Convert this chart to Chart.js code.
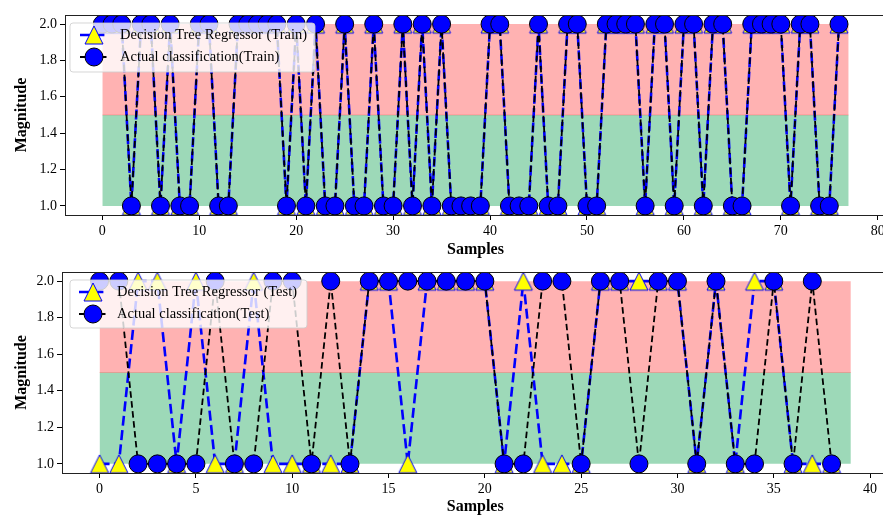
<!DOCTYPE html>
<html>
<head>
<meta charset="utf-8">
<script src="https://cdn.jsdelivr.net/npm/chart.js@4.4.1/dist/chart.umd.min.js"></script>
<style>
  html, body { margin: 0; padding: 0; background: #fff; overflow: hidden; width: 883px; height: 516px; }
  .panel { position: absolute; left: 0; width: 900px; }
</style>
</head>
<body>
<div class="panel" style="top:0;height:262px"><canvas id="trainChart" width="900" height="262"></canvas></div>
<div class="panel" style="top:258px;height:258px"><canvas id="testChart" width="900" height="258"></canvas></div>
<script>
// ---- data ----
const trainActual = [2,2,2,1,2,2,1,2,1,1, 2,2,1,1,2,2,2,2,2,1, 2,1,2,1,1,2,1,1,2,1,
                     1,2,1,2,1,2,1,1,1,1, 2,2,1,1,1,2,1,1,2,2, 1,1,2,2,2,2,1,2,2,1,
                     2,2,1,2,2,1,1,2,2,2, 2,1,2,2,1,1,2];
const trainPred   = [2,2,2,1,2,2,1,2,1,1, 2,2,1,1,2,2,2,2,2,1, 2,1,2,1,1,2,1,1,2,1,
                     1,2,1,2,1,2,1,1,1,1, 2,2,1,1,1,2,1,1,2,2, 1,1,2,2,2,2,1,2,2,1,
                     2,2,1,2,2,1,1,2,2,2, 2,1,2,2,1,1,2];
const testActual  = [2,2,1,1,1,1,2,1,1,2, 2,1,2,1,2,2,2,2,2,2, 2,1,1,2,2,1,2,2,1,2,
                     2,1,2,1,1,2,1,2,1];
const testPred    = [1,1,2,2,1,2,1,1,2,1, 1,1,1,1,2,2,1,2,2,2, 2,1,2,1,1,1,2,2,2,2,
                     2,1,2,1,2,2,1,1,1];
const trainBand = [0, 77];          // x extent of shaded bands
const testBand  = [0, 39];
const bandLevels = [1.0, 1.5, 2.0];
const trainXTicks = [0, 10, 20, 30, 40, 50, 60, 70, 80];
const testXTicks  = [0, 5, 10, 15, 20, 25, 30, 35, 40];
const yTicks = [1.0, 1.2, 1.4, 1.6, 1.8, 2.0];

Chart.defaults.font.family = "'Liberation Serif', 'Times New Roman', serif";
Chart.defaults.color = '#000';

// yellow matplotlib-like triangle marker
function makeTriangle(size) {
  const c = document.createElement('canvas');
  c.width = size + 4; c.height = size + 4;
  const g = c.getContext('2d');
  const h = size / 2, m = (size + 4) / 2;
  g.beginPath();
  g.moveTo(m, m - h);
  g.lineTo(m - h, m + h);
  g.lineTo(m + h, m + h);
  g.closePath();
  g.fillStyle = '#ffff00';
  g.fill();
  g.strokeStyle = '#0000ff';
  g.lineWidth = 1;
  g.stroke();
  return c;
}
const tri = makeTriangle(18);

const PRED_DASH = [10, 4.4];
const ACT_DASH = [6.5, 3.5];

function framePlugin() {
  return {
    id: 'frame',
    afterDatasetsDraw(chart) {
      const a = chart.chartArea, c = chart.ctx;
      c.save();
      c.strokeStyle = '#222';
      c.lineWidth = 1;
      c.strokeRect(Math.round(a.left) + 0.5, Math.round(a.top) + 0.5,
                   Math.round(a.right - a.left), Math.round(a.bottom - a.top));
      c.restore();
    }
  };
}

function legendPlugin(L) {
  return {
    id: 'mplLegend',
    afterDraw(chart) {
      const c = chart.ctx;
      c.save();
      c.beginPath();
      if (c.roundRect) c.roundRect(L.x, L.y, L.w, L.h, 3); else c.rect(L.x, L.y, L.w, L.h);
      c.fillStyle = 'rgba(255,255,255,0.8)';
      c.fill();
      c.strokeStyle = 'rgba(204,204,204,0.8)';
      c.lineWidth = 1;
      c.stroke();
      const mid = (L.hx1 + L.hx2) / 2;
      L.rows.forEach((r, i) => {
        const y = L.rowY[i];
        c.beginPath();
        c.setLineDash(r.dash);
        c.strokeStyle = r.color;
        c.lineWidth = r.width;
        c.moveTo(L.hx1, y);
        c.lineTo(L.hx2, y);
        c.stroke();
        c.setLineDash([]);
        if (r.marker === 'tri') {
          c.drawImage(tri, mid - tri.width / 2, y - tri.height / 2);
        } else {
          c.beginPath();
          c.arc(mid, y, 9, 0, Math.PI * 2);
          c.fillStyle = '#0000ff';
          c.fill();
          c.strokeStyle = '#000';
          c.lineWidth = 1;
          c.stroke();
        }
        c.fillStyle = '#000';
        c.font = "14.5px 'Liberation Serif', 'Times New Roman', serif";
        c.textBaseline = 'middle';
        c.textAlign = 'left';
        c.fillText(r.text, L.tx, y);
      });
      c.restore();
    }
  };
}

function makeChart(id, cfg) {
  const pts = arr => arr.map((v, i) => ({ x: i, y: v }));
  const band = lvl => cfg.band.map(x => ({ x: x, y: lvl }));
  const datasets = [
    { label: cfg.predLabel, data: pts(cfg.pred), borderColor: '#0000ff', borderWidth: 2.6,
      borderDash: PRED_DASH, pointStyle: tri, pointRadius: 9, fill: false, order: 2, tension: 0 },
    { label: cfg.actLabel, data: pts(cfg.actual), borderColor: '#000', borderWidth: 1.8,
      borderDash: ACT_DASH, pointStyle: 'circle', pointRadius: 9, pointBackgroundColor: '#0000ff',
      pointBorderColor: '#000', pointBorderWidth: 1, fill: false, order: 1, tension: 0 },
    { label: 'mid', data: band(bandLevels[1]), borderColor: 'rgba(255,0,0,0.2)', borderWidth: 1,
      pointRadius: 0, fill: false, order: 5 },
    { label: 'high', data: band(bandLevels[2]), borderColor: 'rgba(0,0,0,0)', borderWidth: 1,
      pointRadius: 0, fill: { target: 2 }, backgroundColor: 'rgba(255,0,0,0.3)', order: 5 },
    { label: 'low', data: band(bandLevels[0]), borderColor: 'rgba(0,0,0,0)', borderWidth: 1,
      pointRadius: 0, fill: { target: 2 }, backgroundColor: 'rgba(60,179,113,0.5)', order: 5 }
  ];
  return new Chart(document.getElementById(id), {
    type: 'line',
    data: { datasets },
    options: {
      responsive: false,
      animation: false,
      events: [],
      layout: { padding: cfg.pad },
      plugins: { legend: { display: false }, tooltip: { enabled: false } },
      scales: {
        x: {
          type: 'linear', min: cfg.xMin, max: cfg.xMax,
          afterBuildTicks: s => { s.ticks = cfg.xTicks.map(v => ({ value: v })); },
          afterFit: s => { s.height = cfg.xHeight; },
          ticks: { font: { size: 14 }, padding: 3, maxRotation: 0, callback: v => String(v) },
          grid: { drawOnChartArea: false, drawTicks: true, tickLength: 5, color: '#000' },
          border: { display: false },
          title: { display: true, text: 'Samples', font: { size: 16, weight: 'bold' },
                   padding: { top: 0, bottom: cfg.titlePad } }
        },
        y: {
          min: 0.95, max: 2.05,
          afterBuildTicks: s => { s.ticks = yTicks.map(v => ({ value: v })); },
          afterFit: s => { s.width = cfg.yWidth; },
          ticks: { font: { size: 14 }, padding: 3, callback: v => v.toFixed(1) },
          grid: { drawOnChartArea: false, drawTicks: true, tickLength: 5, color: '#000' },
          border: { display: false },
          title: { display: true, text: 'Magnitude', font: { size: 16, weight: 'bold' },
                   padding: { top: 12, bottom: 0 } }
        }
      }
    },
    plugins: [framePlugin(), legendPlugin(cfg.legend)]
  });
}

makeChart('trainChart', {
  actual: trainActual, pred: trainPred, band: trainBand,
  xMin: -3.85, xMax: 80.85, xTicks: trainXTicks,
  pad: { top: 15, right: 14, left: 0, bottom: 0 },
  yWidth: 65, xHeight: 47, titlePad: 3,
  predLabel: 'Decision Tree Regressor (Train)', actLabel: 'Actual classification(Train)',
  legend: { x: 70, y: 23, w: 245, h: 49, hx1: 80, hx2: 108, tx: 120, rowY: [35, 57],
    rows: [
      { text: 'Decision Tree Regressor (Train)', color: '#0000ff', width: 2.6, dash: PRED_DASH, marker: 'tri' },
      { text: 'Actual classification(Train)', color: '#000', width: 1.8, dash: ACT_DASH, marker: 'circ' }
    ] }
});

makeChart('testChart', {
  actual: testActual, pred: testPred, band: testBand,
  xMin: -1.95, xMax: 40.95, xTicks: testXTicks,
  pad: { top: 14, right: 9, left: 0, bottom: 0 },
  yWidth: 62, xHeight: 43, titlePad: 0,
  predLabel: 'Decision Tree Regressor (Test)', actLabel: 'Actual classification(Test)',
  legend: { x: 70, y: 22, w: 237, h: 48, hx1: 79, hx2: 107, tx: 117, rowY: [34, 56],
    rows: [
      { text: 'Decision Tree Regressor (Test)', color: '#0000ff', width: 2.6, dash: PRED_DASH, marker: 'tri' },
      { text: 'Actual classification(Test)', color: '#000', width: 1.8, dash: ACT_DASH, marker: 'circ' }
    ] }
});
</script>
</body>
</html>
